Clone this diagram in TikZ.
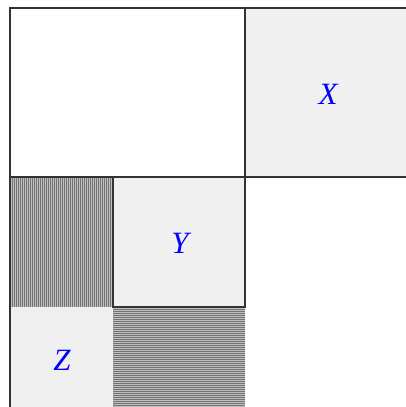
\documentclass[tikz,border=0pt]{standalone}
\usepackage{fontspec}
\setmainfont{Liberation Serif}
\begin{document}
\begin{tikzpicture}[x=1pt,y=-1pt,
  frame/.style={draw=black!80,line width=1.4pt},
  cell/.style={fill=black!6},
  hatch/.style={black!55,line width=1pt},
  lab/.style={text=blue,font=\fontsize{31}{34}\selectfont\itshape}]
\useasboundingbox (0,0) rectangle (406,407);
\clip (0,0) rectangle (406,407);
% shaded cells
\fill[cell] (245,8) rectangle (420,177);
\fill[cell] (113,177) rectangle (245,307);
\fill[cell] (10,307) rectangle (113,420);
% vertical hatch
\fill[black!25] (10,177) rectangle (113,307);
\foreach \i in {0,...,51} {\draw[hatch] (10.5+2*\i,177) -- (10.5+2*\i,307);}
% horizontal hatch
\fill[black!25] (113,307) rectangle (245,420);
\foreach \i in {0,...,55} {\draw[hatch] (113,307.5+2*\i) -- (245,307.5+2*\i);}
% frames
\draw[frame] (10,8) rectangle (245,177);
\draw[frame] (245,8) rectangle (420,177);
\draw[frame] (113,177) rectangle (245,307);
\draw[frame] (10,177) -- (10,420);
% labels
\node[lab] (X) at (328,94) {X};
\node[lab] (Y) at (180,243) {Y};
\node[lab] (Z) at (62,360) {Z};
\end{tikzpicture}
\end{document}
